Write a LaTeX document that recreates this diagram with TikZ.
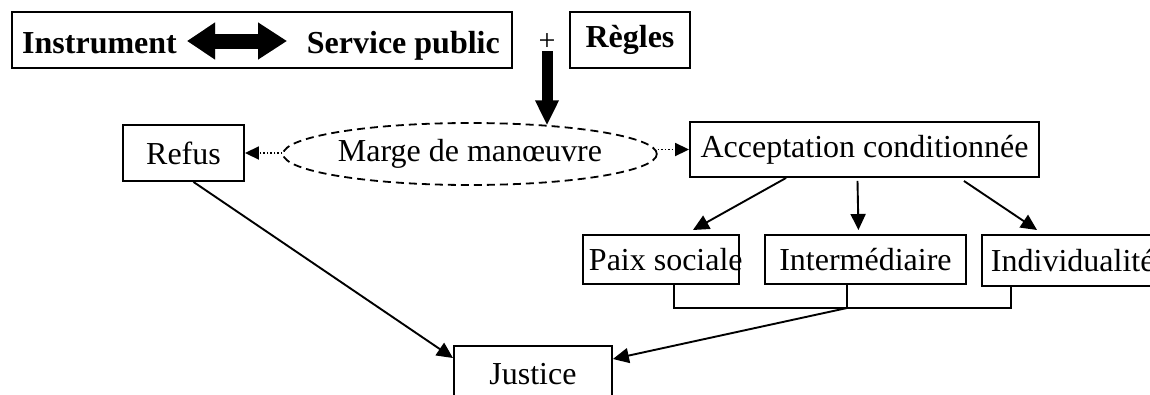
\documentclass[tikz,border=0pt]{standalone}
\usepackage{fontspec}
\setmainfont{Liberation Serif}
\usetikzlibrary{arrows.meta,shapes.geometric,calc}
\begin{document}
\begin{tikzpicture}[x=1pt,y=-1pt,
  txt/.style={font=\fontsize{32}{38}\selectfont},
  btxt/.style={font=\fontsize{32}{38}\selectfont\bfseries},
  box/.style={draw, line width=1.9pt, inner sep=0pt},
  conn/.style={line width=1.8pt},
  arr/.style={line width=1.9pt, -{Triangle[length=16pt,width=15pt]}},
  dotarr/.style={line width=1.8pt, dash pattern=on 1.5pt off 2pt, -{Triangle[length=14pt,width=13pt]}},
  bigarr/.style={line width=11pt, -{Triangle[length=25pt,width=22pt]}},
  dblarr/.style={line width=15pt, {Triangle[length=28pt,width=35pt]}-{Triangle[length=29pt,width=35pt]}}]
\useasboundingbox (0,0) rectangle (1150,394);

% top row
\node[box, minimum width=500pt, minimum height=56pt] (top) at (262,40) {};
\node[btxt, inner sep=0pt, anchor=base west] (instr) at (22,53) {Instrument};
\node[btxt, inner sep=0pt, anchor=base east] (serv) at (500,53) {Service public};
\coordinate (da1) at (187,41);
\coordinate (da2) at (287,41);
\draw[dblarr, gray!55, shift={(3,3)}] (da1) -- (da2);
\draw[dblarr, black] (da1) -- (da2);
\node[box, btxt, minimum width=120pt, minimum height=56pt] (regles) at (630,40) {Règles};
\node[font=\fontsize{30}{34}\selectfont, inner sep=0pt] (plus) at (547,42) {+};

% middle row
\node[ellipse, draw, line width=1.8pt, dash pattern=on 8pt off 5pt, inner sep=0pt,
      minimum width=304pt, minimum height=62pt, txt] (marge) at (470,154) {Marge de manœuvre};
\node[box, txt, minimum width=121pt, minimum height=56pt] (refus) at (183.5,153) {Refus};
\node[box, txt, minimum width=349pt, minimum height=55pt] (accept) at (864.5,149.5) {Acceptation conditionnée};

\draw[bigarr] ($(plus.center)+(0,9)$) -- (plus |- marge.19);
\draw[dotarr] (refus.east -| marge.west) -- (refus.east);
\draw[dotarr] (accept.west -| marge.east) -- (accept.west);

% bottom row
\node[box, txt, minimum width=156pt, minimum height=49pt, anchor=north west] (paix) at (582,234)
  {\makebox[156pt][l]{\hspace{6pt}Paix sociale}};
\node[box, txt, minimum width=201pt, minimum height=49pt, anchor=north west] (inter) at (764,234) {Intermédiaire};
\node[box, txt, minimum width=200pt, minimum height=51pt, anchor=north west] (indiv) at (981,234)
  {\makebox[200pt][l]{\hspace{9pt}Individualité}};
\node[box, txt, minimum width=158pt, minimum height=56pt, anchor=north west] (justice) at (453,345) {Justice};

\draw[arr] ($(accept.south west)+(97,0)$) -- ($(paix.north)+(32,-4)$);
\draw[arr] ($(accept.south)+(-7,3)$) -- ($(inter.north)+(-7,-4)$);
\draw[arr] ($(accept.south east)+(-76,3)$) -- ($(indiv.north west)+(56,-4)$);

\coordinate (b1) at (674,308);
\coordinate (b2) at (847,308);
\coordinate (b3) at (1011,308);
\draw[conn] (b1 |- paix.south) -- (b1) -- (b3) -- (b3 |- indiv.south);
\draw[conn] (b2 |- inter.south) -- (b2);
\draw[arr] (b2) -- ($(justice.north east)+(0,14)$);
\draw[arr] ($(refus.south)+(10,0)$) -- ($(justice.north west)+(0,13)$);
\end{tikzpicture}
\end{document}
